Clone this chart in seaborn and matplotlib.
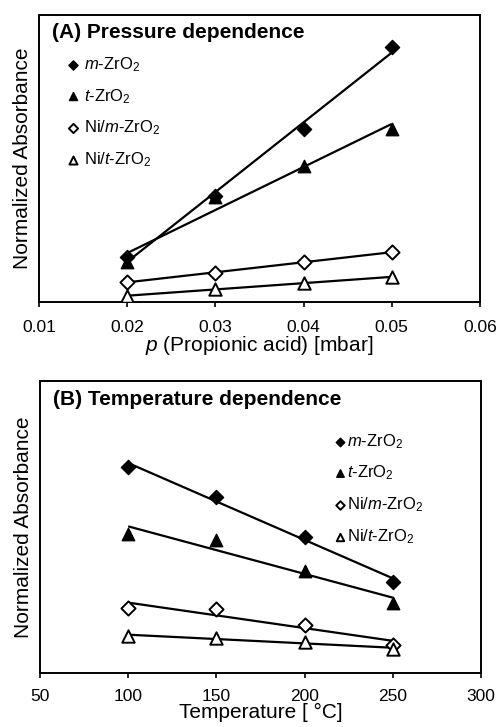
import numpy as np
import pandas as pd
import matplotlib
matplotlib.use("Agg")
import matplotlib.pyplot as plt
import seaborn as sns

# Samples and legend labels
sample_labels = [r"$\mathit{m}$-ZrO$_2$", r"$\mathit{t}$-ZrO$_2$",
                 r"Ni/$\mathit{m}$-ZrO$_2$", r"Ni/$\mathit{t}$-ZrO$_2$"]
sample_markers = ["D", "^", "D", "^"]
sample_filled = [True, True, False, False]

# (A) pressure series
pressure = [0.02, 0.03, 0.04, 0.05]
press_m = [0.157, 0.369, 0.603, 0.889]
press_t = [0.139, 0.366, 0.474, 0.603]
press_ni_m = [0.070, 0.101, 0.139, 0.174]
press_ni_t = [0.021, 0.045, 0.066, 0.087]

# (B) temperature series
temperature = [100, 150, 200, 250]
temp_m = [0.705, 0.603, 0.466, 0.312]
temp_t = [0.476, 0.455, 0.349, 0.240]
temp_ni_m = [0.223, 0.219, 0.164, 0.096]
temp_ni_t = [0.127, 0.120, 0.106, 0.082]

press_ticks = [0.01, 0.02, 0.03, 0.04, 0.05, 0.06]
temp_ticks = [50, 100, 150, 200, 250, 300]

sns.set_theme(style="ticks")
plt.rcParams["font.family"] = ["Liberation Sans", "DejaVu Sans"]
plt.rcParams["mathtext.fontset"] = "custom"
plt.rcParams["mathtext.rm"] = "Liberation Sans"
plt.rcParams["mathtext.it"] = "Liberation Sans:italic"
plt.rcParams["mathtext.bf"] = "Liberation Sans:bold"
for key in ["text.color", "axes.labelcolor", "xtick.color", "ytick.color",
            "xtick.labelcolor", "ytick.labelcolor", "axes.edgecolor"]:
    plt.rcParams[key] = "black"

fig = plt.figure(figsize=(5.0, 7.27), dpi=100)
axA = fig.add_axes([0.078, 0.5846, 0.882, 0.3948])
axB = fig.add_axes([0.080, 0.0743, 0.882, 0.4017])


def draw_panel(ax, x, series, xticks, xlim, tick_pad):
    for y, lab, mk, filled in zip(series, sample_labels, sample_markers, sample_filled):
        df = pd.DataFrame({"x": x, "y": y})
        size = 52 if mk == "D" else 80
        sns.regplot(data=df, x="x", y="y", ax=ax, ci=None, marker=mk,
                    color="black", label=lab,
                    scatter_kws=dict(s=size, alpha=1,
                                     facecolors="black" if filled else "white",
                                     edgecolors="black",
                                     linewidths=1.0 if filled else 1.4,
                                     zorder=3),
                    line_kws=dict(lw=1.6, zorder=2, solid_capstyle="butt"))
    ax.set_xlim(*xlim)
    ax.set_ylim(0, 1)
    ax.set_xticks(xticks)
    ax.set_yticks([])
    ax.set_ylabel("Normalized Absorbance", fontsize=15, labelpad=5)
    ax.tick_params(axis="x", direction="out", length=3.5, width=1.2,
                   labelsize=12.5, pad=tick_pad, color="black", labelcolor="black")
    for sp in ax.spines.values():
        sp.set_visible(True)
        sp.set_linewidth(1.4)
        sp.set_color("black")


draw_panel(axA, pressure, [press_m, press_t, press_ni_m, press_ni_t],
           press_ticks, (0.01, 0.06), 9.5)
axA.set_xticklabels([f"{t:.2f}" for t in press_ticks])
axA.set_xlabel(r"$\mathit{p}$ (Propionic acid) [mbar]", fontsize=15, labelpad=-1)
axA.text(0.03, 0.94, "(A) Pressure dependence", transform=axA.transAxes,
         fontsize=15, fontweight="bold", va="center", ha="left")
hA = [c for c in axA.collections]
axA.legend(hA, sample_labels, loc="upper left", bbox_to_anchor=(0.059, 0.86),
           frameon=False, fontsize=12, markerscale=0.65, scatterpoints=1,
           handlelength=1.0, handletextpad=0.12, labelspacing=0.78,
           borderpad=0, borderaxespad=0)

draw_panel(axB, temperature, [temp_m, temp_t, temp_ni_m, temp_ni_t],
           temp_ticks, (50, 300), 8.0)
axB.set_xlabel("Temperature [ °C]", fontsize=15, labelpad=-1)
axB.text(0.03, 0.938, "(B) Temperature dependence", transform=axB.transAxes,
         fontsize=15, fontweight="bold", va="center", ha="left")
hB = [c for c in axB.collections]
axB.legend(hB, sample_labels, loc="upper left", bbox_to_anchor=(0.67, 0.825),
           frameon=False, fontsize=12, markerscale=0.6, scatterpoints=1,
           handlelength=0.6, handletextpad=0.1, labelspacing=0.78,
           borderpad=0, borderaxespad=0)

fig.savefig("out.png", dpi=100)
